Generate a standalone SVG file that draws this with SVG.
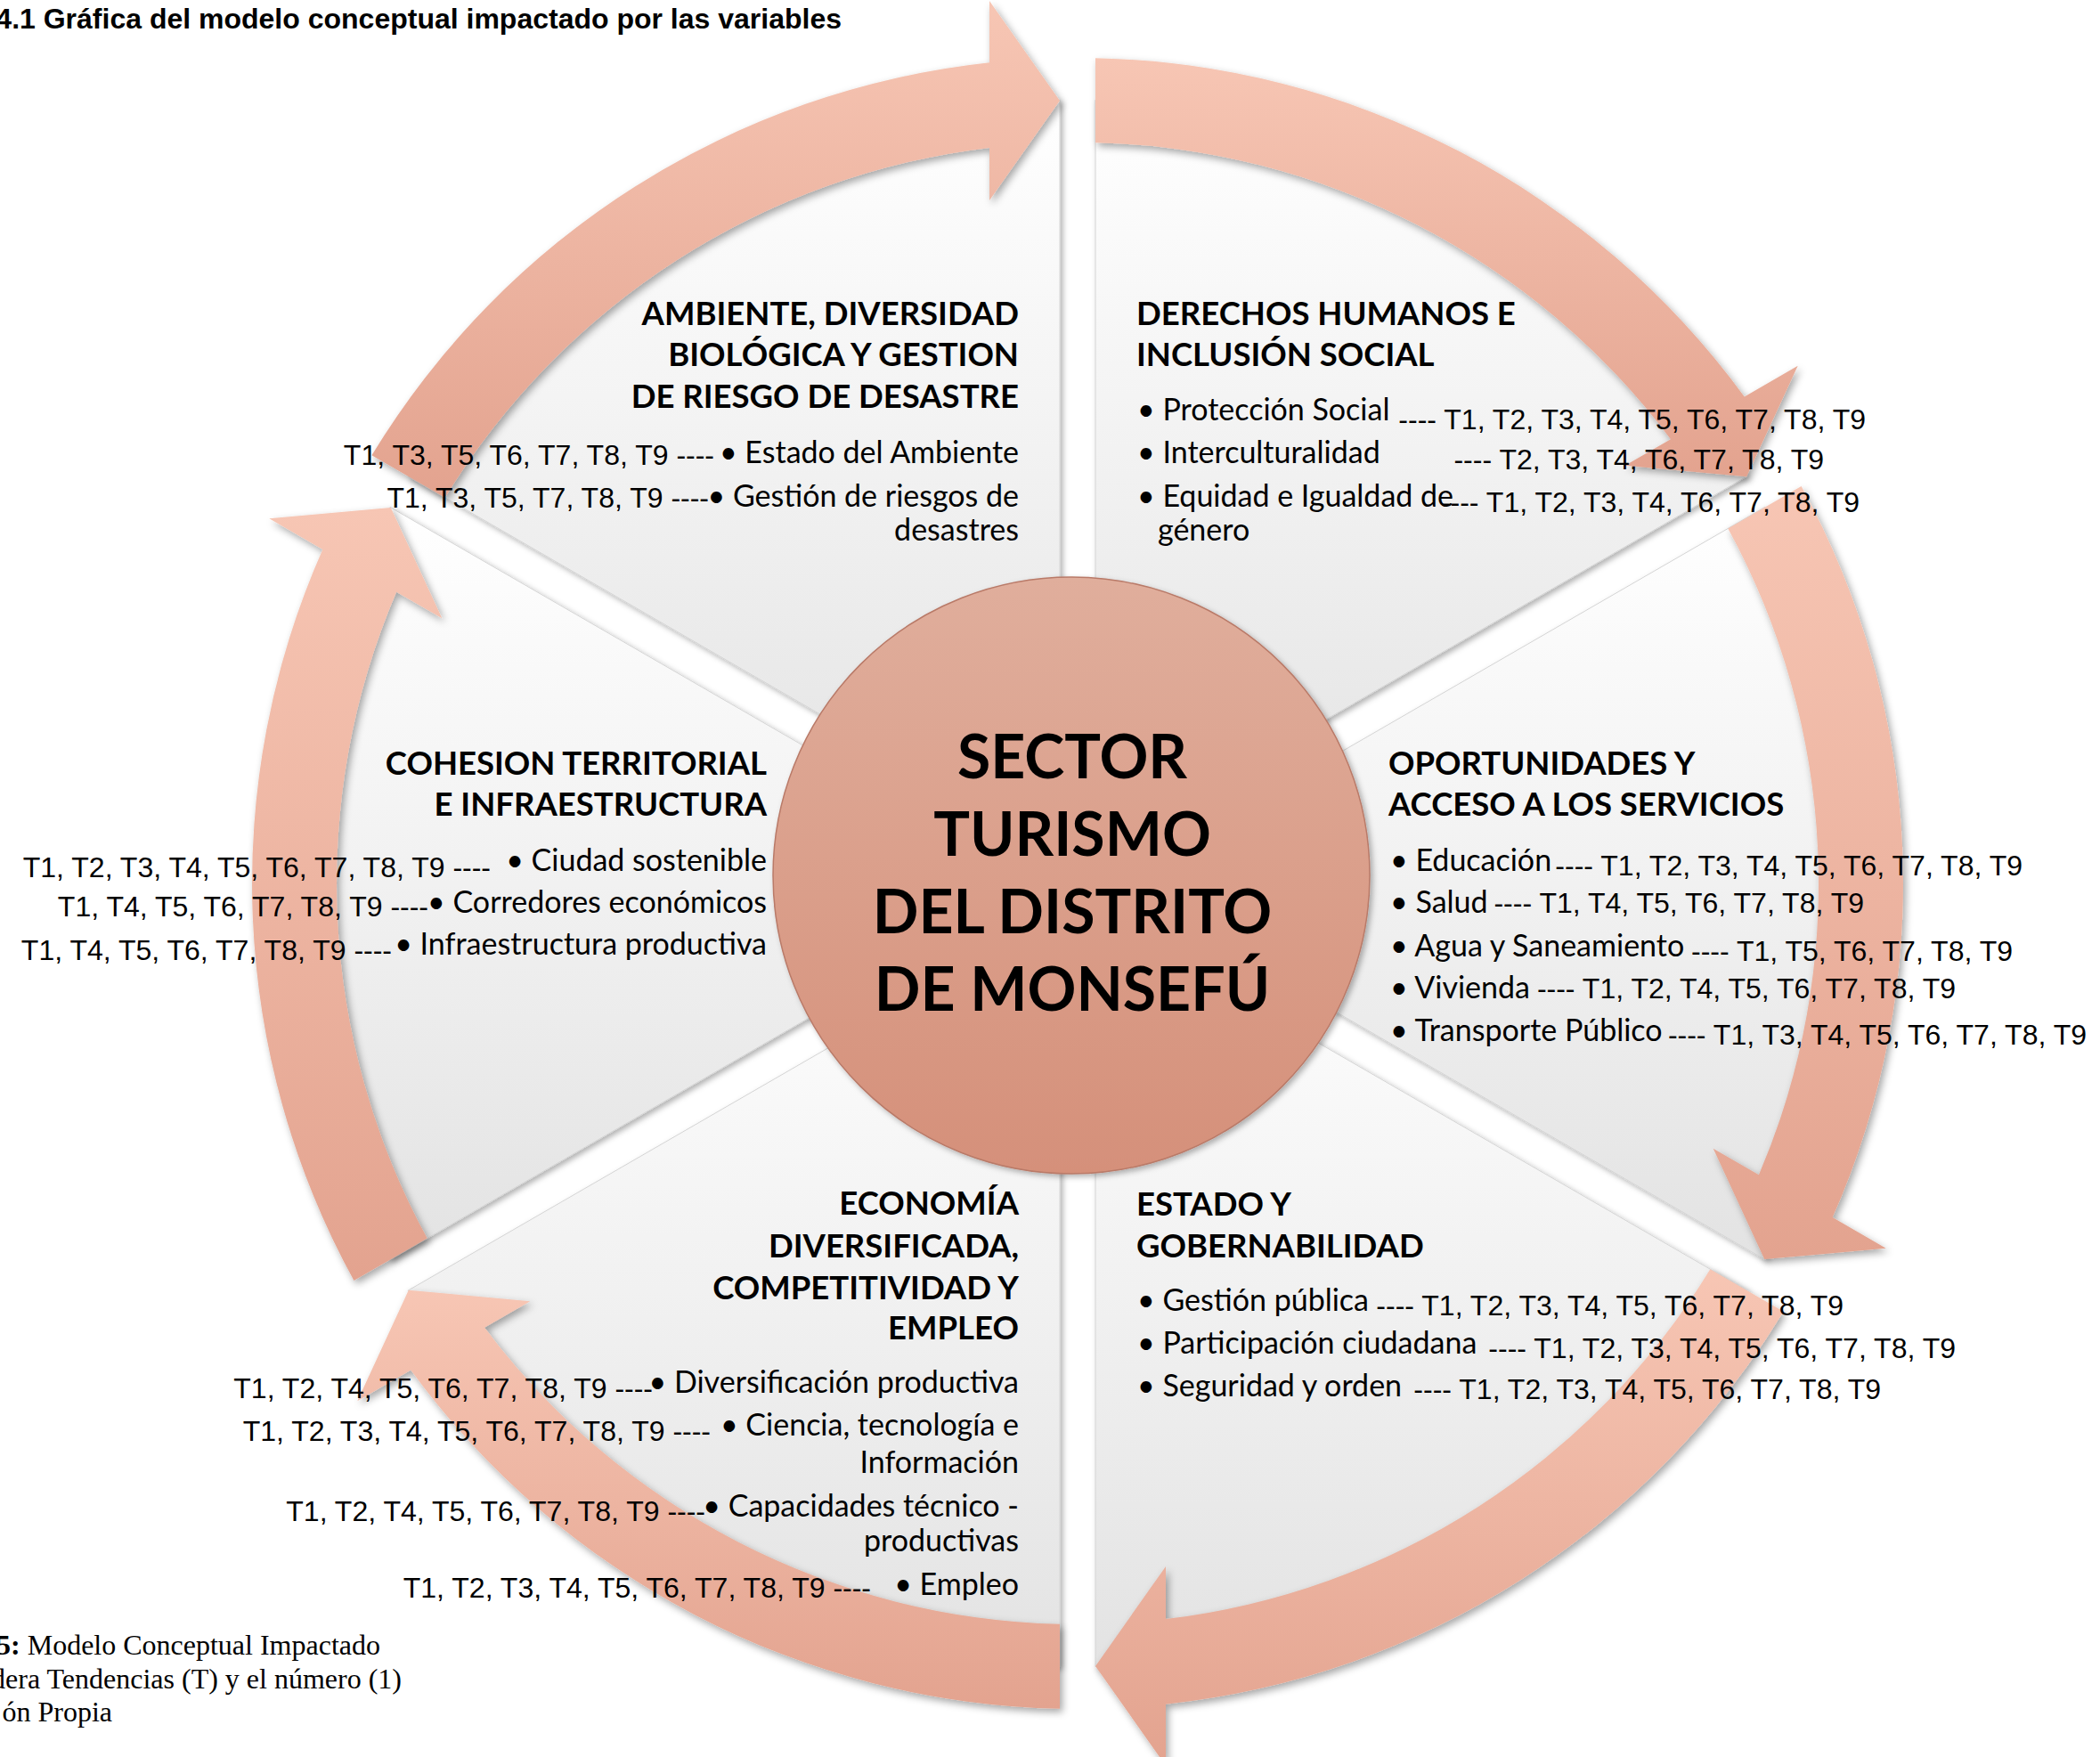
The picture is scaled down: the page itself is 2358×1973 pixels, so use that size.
<svg xmlns="http://www.w3.org/2000/svg" width="2358" height="1973" viewBox="0 0 2358 1973">
<defs>
<linearGradient id="gArrow" x1="0" y1="0" x2="0" y2="1">
<stop offset="0" stop-color="#F7C6B4"/>
<stop offset="1" stop-color="#E3A38F"/>
</linearGradient>
<linearGradient id="gWedge" x1="0" y1="0" x2="0" y2="1">
<stop offset="0" stop-color="#FFFFFF"/>
<stop offset="1" stop-color="#E3E3E3"/>
</linearGradient>
<linearGradient id="gCircle" x1="0" y1="0" x2="0" y2="1">
<stop offset="0" stop-color="#E0AE9C"/>
<stop offset="1" stop-color="#D5907A"/>
</linearGradient>
<filter id="shArrow" x="-10%" y="-10%" width="125%" height="125%">
<feDropShadow dx="3" dy="4" stdDeviation="4" flood-color="#000" flood-opacity="0.35"/>
</filter>
<filter id="shWedge" x="-10%" y="-10%" width="125%" height="125%">
<feDropShadow dx="3" dy="3" stdDeviation="3" flood-color="#000" flood-opacity="0.3"/>
</filter>
</defs>
<style>
.wedge{fill:url(#gWedge);stroke:#D4D4D4;stroke-width:1;filter:url(#shWedge)}
.arrow{fill:url(#gArrow);filter:url(#shArrow)}
.h{font-family:Lato,"Open Sans","DejaVu Sans",sans-serif;font-weight:700;font-size:36.5px;fill:#000}
.b{font-family:Lato,"Open Sans","DejaVu Sans",sans-serif;font-size:34px;fill:#000}
.t{font-family:"Liberation Sans",Arial,sans-serif;font-size:32px;fill:#000}
.c{font-family:Lato,"Open Sans","DejaVu Sans",sans-serif;font-weight:700;font-size:68px;fill:#000;text-anchor:middle}
.e{text-anchor:end}
.title{font-family:"Liberation Sans",Arial,sans-serif;font-weight:700;font-size:32px;fill:#000}
.cap{font-family:"Liberation Serif","Times New Roman",serif;font-size:32px;fill:#000}
</style>
<rect x="0" y="0" width="2358" height="1973" fill="#FFFFFF"/>

<text class="title e" x="945" y="32">4.1 Gráfica del modelo conceptual impactado por las variables</text>

<g id="wedges">
<path id="w-tr" class="wedge" d="M 1230,957.4 L 1230,112.2 A 880 880 0 0 1 1961.9,534.8 Z"/>
<path id="w-r" class="wedge" d="M 1250,992 L 1981.9,569.4 A 880 880 0 0 1 1981.9,1414.5 Z"/>
<path id="w-br" class="wedge" d="M 1230,1026.6 L 1961.9,1449.2 A 880 880 0 0 1 1230,1871.7 Z"/>
<path id="w-bl" class="wedge" d="M 1190,1026.6 L 1190,1871.8 A 880 880 0 0 1 458.1,1449.2 Z"/>
<path id="w-l" class="wedge" d="M 1170,992 L 438.1,1414.6 A 880 880 0 0 1 438.1,569.5 Z"/>
<path id="w-tl" class="wedge" d="M 1190,957.4 L 458.1,534.8 A 880 880 0 0 1 1190,112.3 Z"/>
</g>

<g id="connectors">
<path class="arrow" d="M 417.4,511.3 A 927 927 0 0 1 1111,70.3 L 1111,1.1 L 1190,113.1 L 1111,225.1 L 1111,165.9 A 832 832 0 0 0 499.7,558.8 Z"/>
<path class="arrow" d="M 1230,65.2 A 927 927 0 0 1 1958.7,445.4 L 2018.7,410.8 L 1961.2,535.2 L 1824.7,522.8 L 1875.9,493.2 A 832 832 0 0 0 1230,160.2 Z"/>
<path class="arrow" d="M 2022.6,545.9 A 927 927 0 0 1 2057.7,1367.1 L 2117.7,1401.7 L 1981.2,1414.1 L 1923.7,1289.7 L 1974.9,1319.3 A 832 832 0 0 0 1940.3,593.4 Z"/>
<path class="arrow" d="M 2002.6,1472.7 A 927 927 0 0 1 1309,1913.7 L 1309,1982.9 L 1230,1870.9 L 1309,1758.9 L 1309,1818.1 A 832 832 0 0 0 1920.3,1425.2 Z"/>
<path class="arrow" d="M 1190,1918.8 A 927 927 0 0 1 461.3,1538.6 L 401.3,1573.2 L 458.8,1448.8 L 595.3,1461.2 L 544.1,1490.8 A 832 832 0 0 0 1190,1823.8 Z"/>
<path class="arrow" d="M 397.4,1438.1 A 927 927 0 0 1 362.3,616.9 L 302.3,582.3 L 438.8,569.9 L 496.3,694.3 L 445.1,664.7 A 832 832 0 0 0 479.7,1390.6 Z"/>
</g>

<g id="center">
<circle cx="1203" cy="983" r="335" fill="url(#gCircle)" stroke="#B97A68" stroke-width="1.5" filter="url(#shWedge)"/>
<text class="c" x="1204" y="874">SECTOR</text>
<text class="c" x="1204" y="961">TURISMO</text>
<text class="c" x="1204" y="1048">DEL DISTRITO</text>
<text class="c" x="1204" y="1135">DE MONSEFÚ</text>
</g>

<g id="ambiente">
<text class="h e" x="1144" y="365">AMBIENTE, DIVERSIDAD</text>
<text class="h e" x="1144" y="411">BIOLÓGICA Y GESTION</text>
<text class="h e" x="1144" y="458">DE RIESGO DE DESASTRE</text>
<text class="b e" x="1144" y="520">• Estado del Ambiente</text>
<text class="t e" x="802" y="522">T1, T3, T5, T6, T7, T8, T9 ----</text>
<text class="b e" x="1144" y="569">• Gestión de riesgos de</text>
<text class="t e" x="796" y="570">T1, T3, T5, T7, T8, T9 ----</text>
<text class="b e" x="1144" y="607">desastres</text>
</g>

<g id="derechos">
<text class="h" x="1276" y="365">DERECHOS HUMANOS E</text>
<text class="h" x="1276" y="411">INCLUSIÓN SOCIAL</text>
<text class="b" x="1277" y="472">• Protección Social</text>
<text class="t e" x="2095" y="482">---- T1, T2, T3, T4, T5, T6, T7, T8, T9</text>
<text class="b" x="1277" y="520">• Interculturalidad</text>
<text class="t e" x="2048" y="527">---- T2, T3, T4, T6, T7, T8, T9</text>
<text class="b" x="1277" y="569">• Equidad e Igualdad de</text>
<text class="t e" x="2088" y="575">---- T1, T2, T3, T4, T6, T7, T8, T9</text>
<text class="b" x="1300" y="607">género</text>
</g>

<g id="cohesion">
<text class="h e" x="861" y="870">COHESION TERRITORIAL</text>
<text class="h e" x="861" y="916">E INFRAESTRUCTURA</text>
<text class="b e" x="861" y="978">• Ciudad sostenible</text>
<text class="t e" x="551" y="985">T1, T2, T3, T4, T5, T6, T7, T8, T9 ----</text>
<text class="b e" x="861" y="1025">• Corredores económicos</text>
<text class="t e" x="481" y="1029">T1, T4, T5, T6, T7, T8, T9 ----</text>
<text class="b e" x="861" y="1072">• Infraestructura productiva</text>
<text class="t e" x="440" y="1078">T1, T4, T5, T6, T7, T8, T9 ----</text>
</g>

<g id="oportunidades">
<text class="h" x="1559" y="870">OPORTUNIDADES Y</text>
<text class="h" x="1559" y="916">ACCESO A LOS SERVICIOS</text>
<text class="b" x="1561" y="978">• Educación</text>
<text class="t e" x="2271" y="983">---- T1, T2, T3, T4, T5, T6, T7, T8, T9</text>
<text class="b" x="1561" y="1025">• Salud</text>
<text class="t e" x="2093" y="1025">---- T1, T4, T5, T6, T7, T8, T9</text>
<text class="b" x="1561" y="1074">• Agua y Saneamiento</text>
<text class="t e" x="2260" y="1079">---- T1, T5, T6, T7, T8, T9</text>
<text class="b" x="1561" y="1121">• Vivienda</text>
<text class="t e" x="2196" y="1121">---- T1, T2, T4, T5, T6, T7, T8, T9</text>
<text class="b" x="1561" y="1169">• Transporte Público</text>
<text class="t e" x="2343" y="1173">---- T1, T3, T4, T5, T6, T7, T8, T9</text>
</g>

<g id="estado">
<text class="h" x="1276" y="1365">ESTADO Y</text>
<text class="h" x="1276" y="1412">GOBERNABILIDAD</text>
<text class="b" x="1277" y="1472">• Gestión pública</text>
<text class="t e" x="2070" y="1477">---- T1, T2, T3, T4, T5, T6, T7, T8, T9</text>
<text class="b" x="1277" y="1520">• Participación ciudadana</text>
<text class="t e" x="2196" y="1525">---- T1, T2, T3, T4, T5, T6, T7, T8, T9</text>
<text class="b" x="1277" y="1568">• Seguridad y orden</text>
<text class="t e" x="2112" y="1571">---- T1, T2, T3, T4, T5, T6, T7, T8, T9</text>
</g>

<g id="economia">
<text class="h e" x="1144" y="1364">ECONOMÍA</text>
<text class="h e" x="1144" y="1412">DIVERSIFICADA,</text>
<text class="h e" x="1144" y="1459">COMPETITIVIDAD Y</text>
<text class="h e" x="1144" y="1504">EMPLEO</text>
<text class="b e" x="1144" y="1564">• Diversificación productiva</text>
<text class="t e" x="733" y="1570">T1, T2, T4, T5, T6, T7, T8, T9 ----</text>
<text class="b e" x="1144" y="1612">• Ciencia, tecnología e</text>
<text class="t e" x="798" y="1618">T1, T2, T3, T4, T5, T6, T7, T8, T9 ----</text>
<text class="b e" x="1144" y="1654">Información</text>
<text class="b e" x="1144" y="1703">• Capacidades técnico -</text>
<text class="t e" x="792" y="1708">T1, T2, T4, T5, T6, T7, T8, T9 ----</text>
<text class="b e" x="1144" y="1742">productivas</text>
<text class="b e" x="1144" y="1791">• Empleo</text>
<text class="t e" x="978" y="1794">T1, T2, T3, T4, T5, T6, T7, T8, T9 ----</text>
</g>

<g id="caption">
<text class="cap e" x="427" y="1858"><tspan font-weight="700">5:</tspan> Modelo Conceptual Impactado</text>
<text class="cap e" x="451" y="1896">dera Tendencias (T) y el número (1)</text>
<text class="cap e" x="126" y="1933">ón Propia</text>
</g>
</svg>
